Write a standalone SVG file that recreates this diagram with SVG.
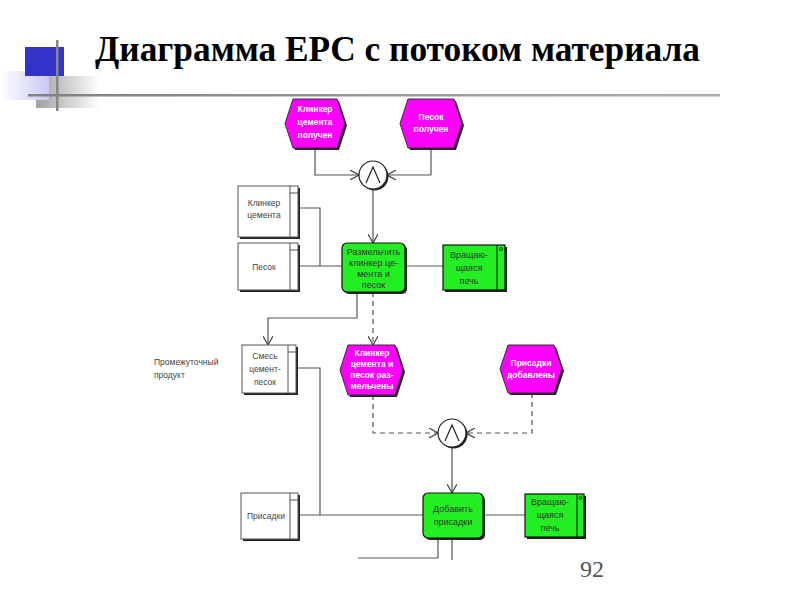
<svg xmlns="http://www.w3.org/2000/svg" width="800" height="600" viewBox="0 0 800 600">
<defs>
<style>
.title{font-family:"Liberation Serif","Times New Roman",serif;font-weight:bold;font-size:35px;fill:#000}
.ev{fill:#ff00ff;stroke:#333;stroke-width:1}
.evt{font-family:"Liberation Sans",Arial,sans-serif;font-weight:bold;font-size:8.5px;fill:#fff;text-anchor:middle}
.fn{fill:#22ee22;stroke:#111;stroke-width:1.2}
.fnt{font-family:"Liberation Sans",Arial,sans-serif;font-size:9px;fill:#333;text-anchor:middle}
.mat{fill:#fff;stroke:#555;stroke-width:1}
.mt{font-family:"Liberation Sans",Arial,sans-serif;font-size:8.5px;fill:#444;text-anchor:middle}
.sh{fill:#222}
.ln{fill:none;stroke:#555;stroke-width:1.2}
.dash{stroke-dasharray:5,4}
.orc{fill:#fff;stroke:#222;stroke-width:1.2}
</style>
<marker id="arr" viewBox="0 0 10 10" refX="9" refY="5" markerWidth="10" markerHeight="10" markerUnits="userSpaceOnUse" orient="auto">
<path d="M0,0 L9,5 L0,10" fill="none" stroke="#444" stroke-width="1.2"/>
</marker>
<linearGradient id="lav" x1="0" y1="0" x2="1" y2="0"><stop offset="0" stop-color="#ffffff"/><stop offset="1" stop-color="#c8c8f4"/></linearGradient>
<linearGradient id="gry" x1="0" y1="0" x2="1" y2="0"><stop offset="0" stop-color="#a0a0a0"/><stop offset="1" stop-color="#ffffff"/></linearGradient>
<linearGradient id="hl" x1="0" y1="0" x2="1" y2="0"><stop offset="0" stop-color="#808080"/><stop offset="1" stop-color="#b0b0b0"/></linearGradient>
</defs>
<rect width="800" height="600" fill="#fff"/>
<g id="decor">
<rect x="36" y="76" width="64" height="32" fill="url(#gry)"/>
<rect x="0" y="71" width="49" height="29" fill="url(#lav)"/>
<rect x="25" y="47" width="39" height="29" fill="#3333cc"/>
<rect x="28" y="94" width="692" height="2.5" fill="url(#hl)"/>
<rect x="56" y="40" width="2.5" height="71" fill="#888"/>
</g>
<text class="title" x="95" y="61" textLength="605" lengthAdjust="spacingAndGlyphs">Диаграмма EPC с потоком материала</text>

<g id="connectors">
<path class="ln" d="M315,148 V175 H359" marker-end="url(#arr)"/>
<path class="ln" d="M431,148 V175 H387" marker-end="url(#arr)"/>
<path class="ln" d="M373,189 V243" marker-end="url(#arr)"/>
<path class="ln" d="M298,208 H320 V266"/>
<path class="ln" d="M298,266 H342"/>
<path class="ln" d="M405,266 H443"/>
<path class="ln" d="M357,292 V318 H268 V345" marker-end="url(#arr)"/>
<path class="ln dash" d="M373,292 V345" marker-end="url(#arr)"/>
<path class="ln" d="M296,368 H320 V515"/>
<path class="ln" d="M298,515 H423"/>
<path class="ln" d="M483,515 H525"/>
<path class="ln dash" d="M373,395 V433 H438" marker-end="url(#arr)"/>
<path class="ln dash" d="M532,393 V433 H466" marker-end="url(#arr)"/>
<path class="ln" d="M452,447 V493" marker-end="url(#arr)"/>
<path class="ln" d="M438,538 V558 H358"/>
<path class="ln" d="M452,538 V560"/>
</g>

<g id="ev1">
<polygon class="sh" points="295,101 339,101 347,125.5 339,150 295,150 287,125.5"/>
<polygon class="ev" points="293,99 337,99 345,123.5 337,148 293,148 285,123.5"/>
<text class="evt" x="315" y="112">Клинкер</text>
<text class="evt" x="315" y="125">цемента</text>
<text class="evt" x="315" y="138">получен</text>
</g>
<g id="ev2">
<polygon class="sh" points="410,101 456,101 464,125.5 456,150 410,150 402,125.5"/>
<polygon class="ev" points="408,99 454,99 462,123.5 454,148 408,148 400,123.5"/>
<text class="evt" x="431" y="120">Песок</text>
<text class="evt" x="431" y="132">получен</text>
</g>
<g id="or1">
<circle cx="374.5" cy="176.5" r="14" fill="#222"/>
<circle class="orc" cx="373" cy="175" r="14"/>
<path d="M366,183 L373,167 L380,183" fill="none" stroke="#222" stroke-width="1.2"/>
</g>
<g id="mat1">
<rect class="sh" x="240" y="188" width="60" height="51"/>
<rect class="mat" x="238" y="186" width="60" height="51"/>
<path d="M290,186 V237 M290,193 H298" stroke="#555" fill="none"/>
<text class="mt" x="264" y="206">Клинкер</text>
<text class="mt" x="264" y="218">цемента</text>
</g>
<g id="mat2">
<rect class="sh" x="240" y="245" width="60" height="47"/>
<rect class="mat" x="238" y="243" width="60" height="47"/>
<path d="M290,243 V290 M290,250 H298" stroke="#555" fill="none"/>
<text class="mt" x="264" y="270">Песок</text>
</g>
<g id="fn1">
<rect class="sh" x="344" y="245" width="63" height="49" rx="5"/>
<rect class="fn" x="342" y="243" width="63" height="49" rx="5"/>
<text class="fnt" x="373.5" y="255">Размельчить</text>
<text class="fnt" x="373.5" y="266">клинкер це-</text>
<text class="fnt" x="373.5" y="277">мента и</text>
<text class="fnt" x="373.5" y="288">песок</text>
</g>
<g id="res1">
<rect class="sh" x="445" y="247" width="62" height="45"/>
<rect class="fn" x="443" y="245" width="62" height="45"/>
<path d="M497,245 V290" stroke="#111" fill="none"/>
<circle cx="501" cy="249" r="1.5" fill="none" stroke="#111" stroke-width="0.8"/>
<text class="fnt" x="469" y="258">Вращаю-</text>
<text class="fnt" x="469" y="271">щаяся</text>
<text class="fnt" x="469" y="284">печь</text>
</g>
<text class="mt" x="154" y="365" style="text-anchor:start">Промежуточный</text>
<text class="mt" x="154" y="378" style="text-anchor:start">продукт</text>
<g id="mat3">
<rect class="sh" x="244" y="347" width="54" height="48"/>
<rect class="mat" x="242" y="345" width="54" height="48"/>
<path d="M288,345 V393 M288,352 H296" stroke="#555" fill="none"/>
<text class="mt" x="265" y="359">Смесь</text>
<text class="mt" x="265" y="372">цемент-</text>
<text class="mt" x="265" y="385">песок</text>
</g>
<g id="ev3">
<polygon class="sh" points="350,347 397,347 405,372 397,397 350,397 342,372"/>
<polygon class="ev" points="348,345 395,345 403,370 395,395 348,395 340,370"/>
<text class="evt" x="372" y="356">Клинкер</text>
<text class="evt" x="372" y="367">цемента и</text>
<text class="evt" x="372" y="378">песок раз-</text>
<text class="evt" x="372" y="389">мельчены</text>
</g>
<g id="ev4">
<polygon class="sh" points="510,347 556,347 564,371 556,395 510,395 502,371"/>
<polygon class="ev" points="508,345 554,345 562,369 554,393 508,393 500,369"/>
<text class="evt" x="531" y="366">Присадки</text>
<text class="evt" x="531" y="378">добавлены</text>
</g>
<g id="or2">
<circle cx="453.5" cy="434.5" r="14" fill="#222"/>
<circle class="orc" cx="452" cy="433" r="14"/>
<path d="M445,441 L452,425 L459,441" fill="none" stroke="#222" stroke-width="1.2"/>
</g>
<g id="mat4">
<rect class="sh" x="243" y="495" width="57" height="46"/>
<rect class="mat" x="241" y="493" width="57" height="46"/>
<path d="M290,493 V539 M290,500 H298" stroke="#555" fill="none"/>
<text class="mt" x="266" y="519">Присадки</text>
</g>
<g id="fn2">
<rect class="sh" x="425" y="495" width="60" height="45" rx="5"/>
<rect class="fn" x="423" y="493" width="60" height="45" rx="5"/>
<text class="fnt" x="453" y="512">Добавить</text>
<text class="fnt" x="453" y="525">присадки</text>
</g>
<g id="res2">
<rect class="sh" x="527" y="496" width="59" height="43"/>
<rect class="fn" x="525" y="494" width="59" height="43"/>
<path d="M577,494 V537" stroke="#111" fill="none"/>
<circle cx="580.5" cy="498" r="1.5" fill="none" stroke="#111" stroke-width="0.8"/>
<text class="fnt" x="550" y="505">Вращаю-</text>
<text class="fnt" x="550" y="518">щаяся</text>
<text class="fnt" x="550" y="531">печь</text>
</g>
<text x="580" y="577" style="font-family:'Liberation Serif','Times New Roman',serif;font-size:24px;fill:#555">92</text>
</svg>
